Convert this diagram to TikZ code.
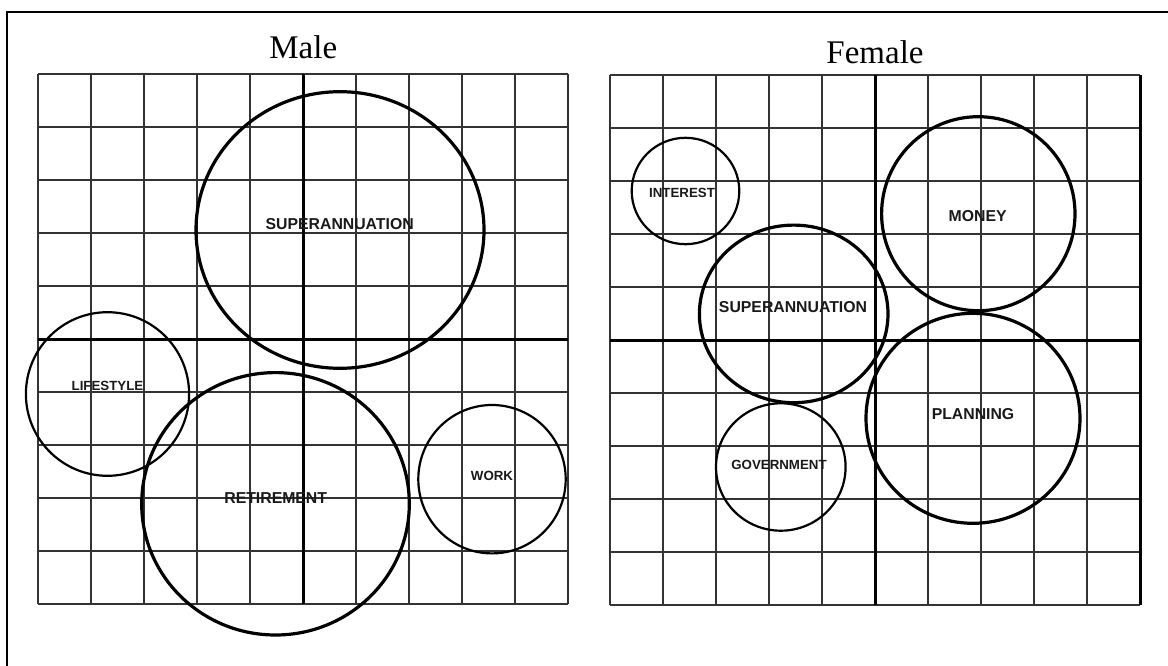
\documentclass[tikz,border=0pt]{standalone}
\usepackage{fontspec}
\setmainfont{Liberation Serif}
\newfontfamily\labfont{Liberation Sans}
\begin{document}
\begin{tikzpicture}[x=1pt,y=-1pt,
  gridline/.style={line width=1.8pt, black!80},
  axisline/.style={line width=3pt, black},
  bigc/.style={line width=3.2pt, black},
  smallc/.style={line width=2.2pt, black},
  biglab/.style={font=\labfont\bfseries\fontsize{15.8}{18}\selectfont, inner sep=0pt, text=black!90},
  smalllab/.style={font=\labfont\bfseries\fontsize{13.3}{16}\selectfont, inner sep=0pt, text=black!90},
  titlelab/.style={font=\fontsize{33}{38}\selectfont, inner sep=0pt, anchor=base}]
\useasboundingbox (0,0) rectangle (1168,666);
% outer frame
\draw[line width=2.2pt] (7,667) -- (7,11.7) -- (1169,11.7);
% titles
\node[titlelab] (tmale) at (303.3,58.3) {Male};
\node[titlelab] (tfemale) at (875,63.3) {Female};
% male grid
\foreach \i in {0,...,10} {
  \draw[gridline] ({38.3+53*\i},74.3) -- ({38.3+53*\i},604.3);
  \draw[gridline] (38.3,{74.3+53*\i}) -- (568.3,{74.3+53*\i});
}
\draw[axisline] (303.3,74.3) -- (303.3,604.3);
\draw[axisline] (38.3,339.3) -- (568.3,339.3);
% female grid
\foreach \i in {0,...,10} {
  \draw[gridline] ({610+53*\i},75.3) -- ({610+53*\i},605.3);
  \draw[gridline] (610,{75.3+53*\i}) -- (1140,{75.3+53*\i});
}
\draw[axisline] (875,75.3) -- (875,605.3);
\draw[axisline] (610,340.3) -- (1140,340.3);
\draw[axisline] (1140,75.3) -- (1140,605.3);
% male circles
\draw[bigc] (340,230) ellipse [x radius=144, y radius=138.3];
\draw[smallc] (107.5,394) ellipse [x radius=81.6, y radius=81.8];
\draw[bigc] (275.5,503.8) ellipse [x radius=133.8, y radius=131.2];
\draw[smallc] (492,479.2) ellipse [x radius=73.7, y radius=74.2];
% female circles
\draw[smallc] (685.5,191) ellipse [x radius=53.8, y radius=53.2];
\draw[bigc] (793.7,313.9) ellipse [x radius=94.3, y radius=88.8];
\draw[bigc] (978.3,213.7) ellipse [x radius=96.7, y radius=97];
\draw[bigc] (973,418.3) ellipse [x radius=107, y radius=105];
\draw[smallc] (780.8,467) ellipse [x radius=64.8, y radius=63.7];
% labels
\node[biglab] (msuper) at (339.7,224) {SUPERANNUATION};
\node[smalllab] (mlife) at (107.5,386) {LIFESTYLE};
\node[biglab] (mretire) at (275.7,498) {RETIREMENT};
\node[smalllab] (mwork) at (492,476) {WORK};
\node[smalllab] (finterest) at (682,193.3) {INTEREST};
\node[biglab] (fsuper) at (793,307.3) {SUPERANNUATION};
\node[biglab] (fmoney) at (977.7,216) {MONEY};
\node[biglab] (fplan) at (973,414) {PLANNING};
\node[smalllab] (fgov) at (779,465) {GOVERNMENT};
\end{tikzpicture}
\end{document}
